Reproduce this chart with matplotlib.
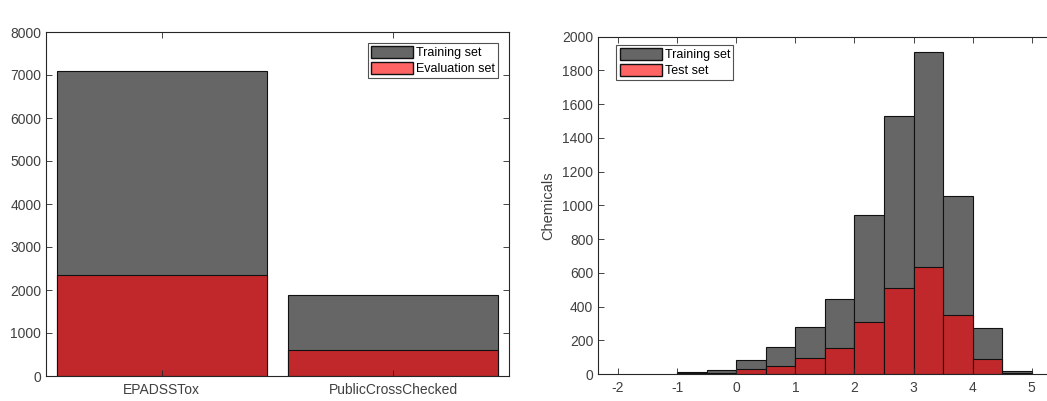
import matplotlib
matplotlib.use("Agg")
import matplotlib.pyplot as plt
from matplotlib.patches import Patch
import numpy as np

plt.rcParams['font.family'] = ['Liberation Sans', 'DejaVu Sans']
plt.rcParams['axes.unicode_minus'] = False

# Left chart data
categories = ["EPADSSTox", "PublicCrossChecked"]
training_counts = [7090, 1895]
evaluation_counts = [2360, 610]

# Right chart data (histogram, bin width 0.5)
bin_edges = [-1.0, -0.5, 0.0, 0.5, 1.0, 1.5, 2.0, 2.5, 3.0, 3.5, 4.0, 4.5, 5.0]
train_hist = [12, 24, 81, 158, 281, 445, 941, 1528, 1909, 1053, 275, 18]
test_hist = [3, 6, 30, 45, 93, 152, 310, 508, 632, 352, 89, 5]

GRAY = "#666666"
RED = "#C1282B"
RED_LEG = "#FF6464"
AXC = "#262626"
TXT = "#404040"

fig = plt.figure(figsize=(10.47, 4.01), dpi=100)

def style(ax, right=True):
    for s in ax.spines.values():
        s.set_color(AXC)
        s.set_linewidth(0.8)
    ax.tick_params(direction='in', top=True, right=right, length=4, width=0.6,
                   colors=AXC, labelcolor=TXT, labelsize=10)
    ax.tick_params(axis='x', pad=5)

legend_kw = dict(fontsize=9, frameon=True, fancybox=False, edgecolor=AXC,
                 handlelength=3.4, handleheight=1.05, handletextpad=0.2,
                 borderpad=0.25, labelspacing=0.22, borderaxespad=0)

# Left axes
ax1 = fig.add_axes([46/1047, 25/401, 463/1047, 344/401])
x = np.arange(1, len(categories) + 1)
ax1.bar(x, training_counts, width=0.905, color=GRAY, edgecolor="#111111", linewidth=0.8)
ax1.bar(x, evaluation_counts, width=0.905, color=RED, edgecolor="#111111", linewidth=0.8)
ax1.set_xlim(0.5, 2.5)
ax1.set_ylim(0, 8000)
ax1.set_yticks(np.arange(0, 8001, 1000))
ax1.set_xticks(x)
ax1.set_xticklabels(categories)
style(ax1)
h1 = [Patch(facecolor=GRAY, edgecolor="#111111", label="Training set"),
      Patch(facecolor=RED_LEG, edgecolor="#111111", label="Evaluation set")]
leg1 = ax1.legend(handles=h1, loc='upper right', bbox_to_anchor=(0.976, 0.968), **legend_kw)
leg1.get_frame().set_linewidth(0.8)

# Right axes (right edge extends past the figure, as in the reference)
ax2 = fig.add_axes([598/1047, 27/401, 466/1047, 337.3/401])
widths = np.diff(bin_edges)
lefts = np.array(bin_edges[:-1])
ax2.bar(lefts, train_hist, width=widths, align='edge', color=GRAY, edgecolor="#111111", linewidth=0.8)
ax2.bar(lefts, test_hist, width=widths, align='edge', color=RED, edgecolor="#111111", linewidth=0.8)
ax2.set_xlim(-2.34, 5.545)
ax2.set_ylim(0, 2000)
ax2.set_yticks(np.arange(0, 2001, 200))
ax2.set_xticks(np.arange(-2, 6, 1))
ax2.set_ylabel("Chemicals", fontsize=10.5, color=TXT, labelpad=5)
style(ax2, right=False)
h2 = [Patch(facecolor=GRAY, edgecolor="#111111", label="Training set"),
      Patch(facecolor=RED_LEG, edgecolor="#111111", label="Test set")]
leg2 = ax2.legend(handles=h2, loc='upper left', bbox_to_anchor=(0.0396, 0.975), **legend_kw)
leg2.get_frame().set_linewidth(0.8)

fig.savefig("out.png", dpi=100)
